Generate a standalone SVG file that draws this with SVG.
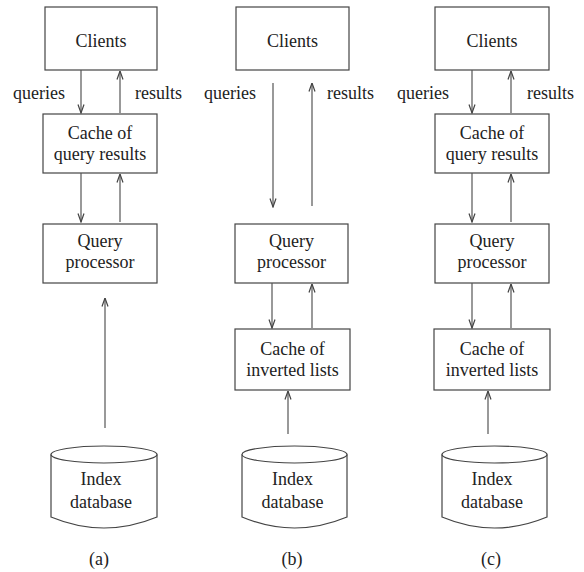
<svg xmlns="http://www.w3.org/2000/svg" width="584" height="572" viewBox="0 0 584 572">
<defs>
<style>
.box{fill:#fff;stroke:#444;stroke-width:1.2}
.cyl{fill:#fff;stroke:#444;stroke-width:1.2}
text{font-family:'Liberation Serif','DejaVu Serif',serif;font-size:18px;fill:#222}
.lbl{text-anchor:middle}
.edge{stroke:#555;stroke-width:1.2;fill:none;marker-end:url(#arr)}
</style>
<marker id="arr" viewBox="0 0 10 8" refX="9.5" refY="4" markerWidth="10" markerHeight="8" markerUnits="userSpaceOnUse" orient="auto">
<path d="M1,1 L9.5,4 L1,7" fill="none" stroke="#444" stroke-width="1.2"/>
</marker>
</defs>
<rect width="584" height="572" fill="#fff"/>
<g font-family="Liberation Serif, DejaVu Serif, serif" font-size="18">
<!-- Column (a) -->
<g id="a-clients"><rect class="box" x="45" y="7" width="112" height="63"/><text class="lbl" x="101" y="47">Clients</text></g>
<g id="a-cache"><rect class="box" x="43" y="114" width="114" height="59"/><text class="lbl" x="100" y="139">Cache of</text><text class="lbl" x="100" y="160">query results</text></g>
<g id="a-qp"><rect class="box" x="43" y="224" width="114" height="59"/><text class="lbl" x="100" y="247">Query</text><text class="lbl" x="100" y="268">processor</text></g>
<g id="a-db"><path class="cyl" d="M51,454.5 L51,517 Q104,539 157,517 L157,454.5"/><ellipse class="cyl" cx="104" cy="454.5" rx="53" ry="8.5"/><text class="lbl" x="101" y="485">Index</text><text class="lbl" x="101" y="508">database</text></g>
<text x="13" y="99">queries</text>
<text x="135" y="99">results</text>
<text class="lbl" x="99" y="565">(a)</text>

<!-- Column (b) -->
<g id="b-clients"><rect class="box" x="236" y="7" width="113" height="63"/><text class="lbl" x="292.5" y="47">Clients</text></g>
<g id="b-qp"><rect class="box" x="235" y="224" width="113" height="59"/><text class="lbl" x="291.5" y="247">Query</text><text class="lbl" x="291.5" y="268">processor</text></g>
<g id="b-cache"><rect class="box" x="235" y="329" width="115" height="61"/><text class="lbl" x="292.5" y="355">Cache of</text><text class="lbl" x="292.5" y="376">inverted lists</text></g>
<g id="b-db"><path class="cyl" d="M242,454.5 L242,517 Q294.5,539 347,517 L347,454.5"/><ellipse class="cyl" cx="294.5" cy="454.5" rx="52.5" ry="8.5"/><text class="lbl" x="292.5" y="485">Index</text><text class="lbl" x="292.5" y="508">database</text></g>
<text x="204" y="99">queries</text>
<text x="327" y="99">results</text>
<text class="lbl" x="292" y="565">(b)</text>

<!-- Column (c) -->
<g id="c-clients"><rect class="box" x="435" y="7" width="114" height="63"/><text class="lbl" x="492" y="47">Clients</text></g>
<g id="c-cache1"><rect class="box" x="435" y="114" width="114" height="59"/><text class="lbl" x="492" y="139">Cache of</text><text class="lbl" x="492" y="160">query results</text></g>
<g id="c-qp"><rect class="box" x="435" y="224" width="114" height="59"/><text class="lbl" x="492" y="247">Query</text><text class="lbl" x="492" y="268">processor</text></g>
<g id="c-cache2"><rect class="box" x="434" y="329" width="116" height="61"/><text class="lbl" x="492" y="355">Cache of</text><text class="lbl" x="492" y="376">inverted lists</text></g>
<g id="c-db"><path class="cyl" d="M442,454.5 L442,517 Q494.5,539 547,517 L547,454.5"/><ellipse class="cyl" cx="494.5" cy="454.5" rx="52.5" ry="8.5"/><text class="lbl" x="492" y="485">Index</text><text class="lbl" x="492" y="508">database</text></g>
<text x="397" y="99">queries</text>
<text x="527" y="99">results</text>
<text class="lbl" x="491" y="565">(c)</text>
</g>
<g id="connectors">
<line class="edge" x1="81" y1="70" x2="81" y2="113"/>
<line class="edge" x1="120" y1="113" x2="120" y2="71"/>
<line class="edge" x1="81" y1="173" x2="81" y2="222"/>
<line class="edge" x1="120" y1="222" x2="120" y2="174"/>
<line class="edge" x1="105" y1="428" x2="105" y2="298"/>

<line class="edge" x1="273" y1="83" x2="273" y2="207"/>
<line class="edge" x1="312" y1="206" x2="312" y2="83"/>
<line class="edge" x1="272" y1="283" x2="272" y2="328"/>
<line class="edge" x1="312" y1="328" x2="312" y2="284"/>
<line class="edge" x1="288" y1="434" x2="288" y2="391"/>

<line class="edge" x1="472" y1="70" x2="472" y2="113"/>
<line class="edge" x1="511" y1="113" x2="511" y2="71"/>
<line class="edge" x1="472" y1="173" x2="472" y2="222"/>
<line class="edge" x1="511" y1="222" x2="511" y2="174"/>
<line class="edge" x1="472" y1="283" x2="472" y2="328"/>
<line class="edge" x1="511" y1="328" x2="511" y2="284"/>
<line class="edge" x1="488" y1="434" x2="488" y2="391"/>
</g>
</svg>
